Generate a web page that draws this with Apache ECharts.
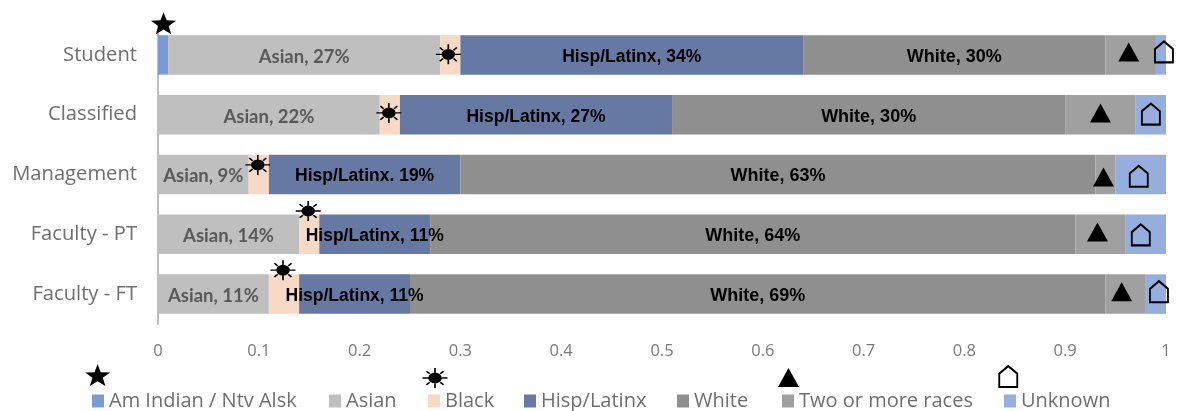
<!DOCTYPE html>
<html><head><meta charset="utf-8">
<script src="https://cdn.jsdelivr.net/npm/echarts@6/dist/echarts.min.js"></script>
<style>html,body{margin:0;padding:0;background:#fff}#c{width:1184px;height:411px}</style></head>
<body><div id="c"></div>
<script>
const categories = ['Student','Classified','Management','Faculty - PT','Faculty - FT'];
const amIndian = [0.01,0,0,0,0];
const asian = [0.27,0.22,0.09,0.14,0.11];
const black = [0.02,0.02,0.02,0.02,0.03];
const hisp = [0.34,0.27,0.19,0.11,0.11];
const white = [0.30,0.39,0.63,0.64,0.69];
const two = [0.05,0.07,0.02,0.05,0.04];
const unknown = [0.01,0.03,0.05,0.04,0.02];
const asianLabels = ['Asian, 27%','Asian, 22%','Asian, 9%','Asian, 14%','Asian, 11%'];
const hispLabels = ['Hisp/Latinx, 34%','Hisp/Latinx, 27%','Hisp/Latinx. 19%','Hisp/Latinx, 11%','Hisp/Latinx, 11%'];
const whiteLabels = ['White, 30%','White, 30%','White, 63%','White, 64%','White, 69%'];
const xTicks = [0,0.1,0.2,0.3,0.4,0.5,0.6,0.7,0.8,0.9,1];
// marker anchors: [share along the bar, row position]; the last entry of each is the key above the legend
const starMarks = [[0.0055,-0.03],[-0.0599,5.853]];
const sunMarks = [[0.288,0.49],[0.229,1.47],[0.099,2.34],[0.149,3.11],[0.124,4.10],[0.2748,5.903]];
const triMarks = [[0.963,0.45],[0.935,1.47],[0.938,2.54],[0.932,3.46],[0.956,4.46],[0.6255,5.895]];
const houseMarks = [[0.998,0.45],[0.985,1.49],[0.973,2.53],[0.975,3.51],[0.993,4.46],[0.8435,5.878]];

const STAR='path://M12 0L15 8.5L24 8.9L17 14.4L19.4 23L12 18L4.6 23L7 14.4L0 8.9L9 8.5Z';
const SUN='path://M5.5 12a6.5 6.5 0 1 0 13 0a6.5 6.5 0 1 0-13 0ZM11.2 0h1.6v5.6h-1.6ZM11.2 18.4h1.6V24h-1.6ZM0 11.2h5.6v1.6H0ZM18.4 11.2H24v1.6h-5.6ZM3.2 4.4L4.4 3.2L7.6 6.4L6.4 7.6ZM16.4 17.6L17.6 16.4L20.8 19.6L19.6 20.8ZM19.6 3.2L20.8 4.4L17.6 7.6L16.4 6.4ZM6.4 16.4L7.6 17.6L4.4 20.8L3.2 19.6Z';
const TRI='path://M10 0L20 18H0Z';
const HOUSE='path://M0 8L8 0L16 8V22H0Z';

const font='Lato, "Open Sans", sans-serif';
const open='"Open Sans", Lato, sans-serif';
const arial='"Liberation Sans", Arial, sans-serif';
function bar(name,values,color,labels,lc,ff,fs){
  return {name,type:'bar',stack:'t',barWidth:39.5,itemStyle:{color},
    emphasis:{disabled:true},
    data:values.map((v,i)=>labels?{value:v,label:{show:true,formatter:labels[i],position:'inside',offset:[0,2],color:lc,fontFamily:ff,fontWeight:'bold',fontSize:fs}}:{value:v})};
}
function marks(name,data,symbol,size,style){
  return {name,type:'scatter',xAxisIndex:0,yAxisIndex:1,clip:false,silent:true,z:10,symbol,symbolSize:size,itemStyle:Object.assign({opacity:1},style),data};
}
function leg(name,left){
  return {data:[name],left,top:391,itemWidth:12,itemHeight:13,itemGap:5,icon:'rect',selectedMode:false,padding:0,
    textStyle:{fontFamily:open,fontSize:20,color:'#6f6f6f',padding:[1,0,0,0]}};
}
const chart=echarts.init(document.getElementById('c'),null,{renderer:'canvas'});
chart.setOption({
  animation:false,backgroundColor:'#fff',
  grid:{left:158,right:18,top:25,height:299,containLabel:false},
  legend:[leg('Am Indian / Ntv Alsk',92),leg('Asian',329),leg('Black',428),leg('Hisp/Latinx',524),leg('White',677),leg('Two or more races',782),leg('Unknown',1004)],
  xAxis:{type:'value',min:0,max:1,interval:0.1,splitLine:{show:false},axisLine:{show:false},axisTick:{show:false},
    axisLabel:{margin:19,color:'#7a7a7a',fontFamily:open,fontSize:16.5,formatter:v=>{const t=xTicks.find(k=>Math.abs(k-v)<1e-6);return String(t);},hideOverlap:false}},
  yAxis:[{type:'category',inverse:true,data:categories,axisLine:{show:true,onZero:false,lineStyle:{color:'#bfbfbf',width:2}},axisTick:{show:false},
    axisLabel:{margin:21,color:'#6f6f6f',fontFamily:open,fontSize:20.2}},
    {type:'value',show:false,inverse:true,min:0,max:5}],
  series:[
    bar('Am Indian / Ntv Alsk',amIndian,'#7a9bd4'),
    bar('Asian',asian,'#bfbfbf',asianLabels,'#595959',font,18.5),
    bar('Black',black,'#f8d9c6'),
    bar('Hisp/Latinx',hisp,'#6579a3',hispLabels,'#000',arial,17.5),
    bar('White',white,'#8f8f8f',whiteLabels,'#000',arial,18),
    bar('Two or more races',two,'#a0a0a0'),
    bar('Unknown',unknown,'#95aedd'),
    marks('star',starMarks,STAR,[25,22],{color:'#000'}),
    marks('sun',sunMarks,SUN,[25,20],{color:'#000'}),
    marks('tri',triMarks,TRI,[21,19],{color:'#000'}),
    marks('house',houseMarks,HOUSE,[18,21],{color:'rgba(0,0,0,0)',borderColor:'#000',borderWidth:2})
  ]
});
</script></body></html>
